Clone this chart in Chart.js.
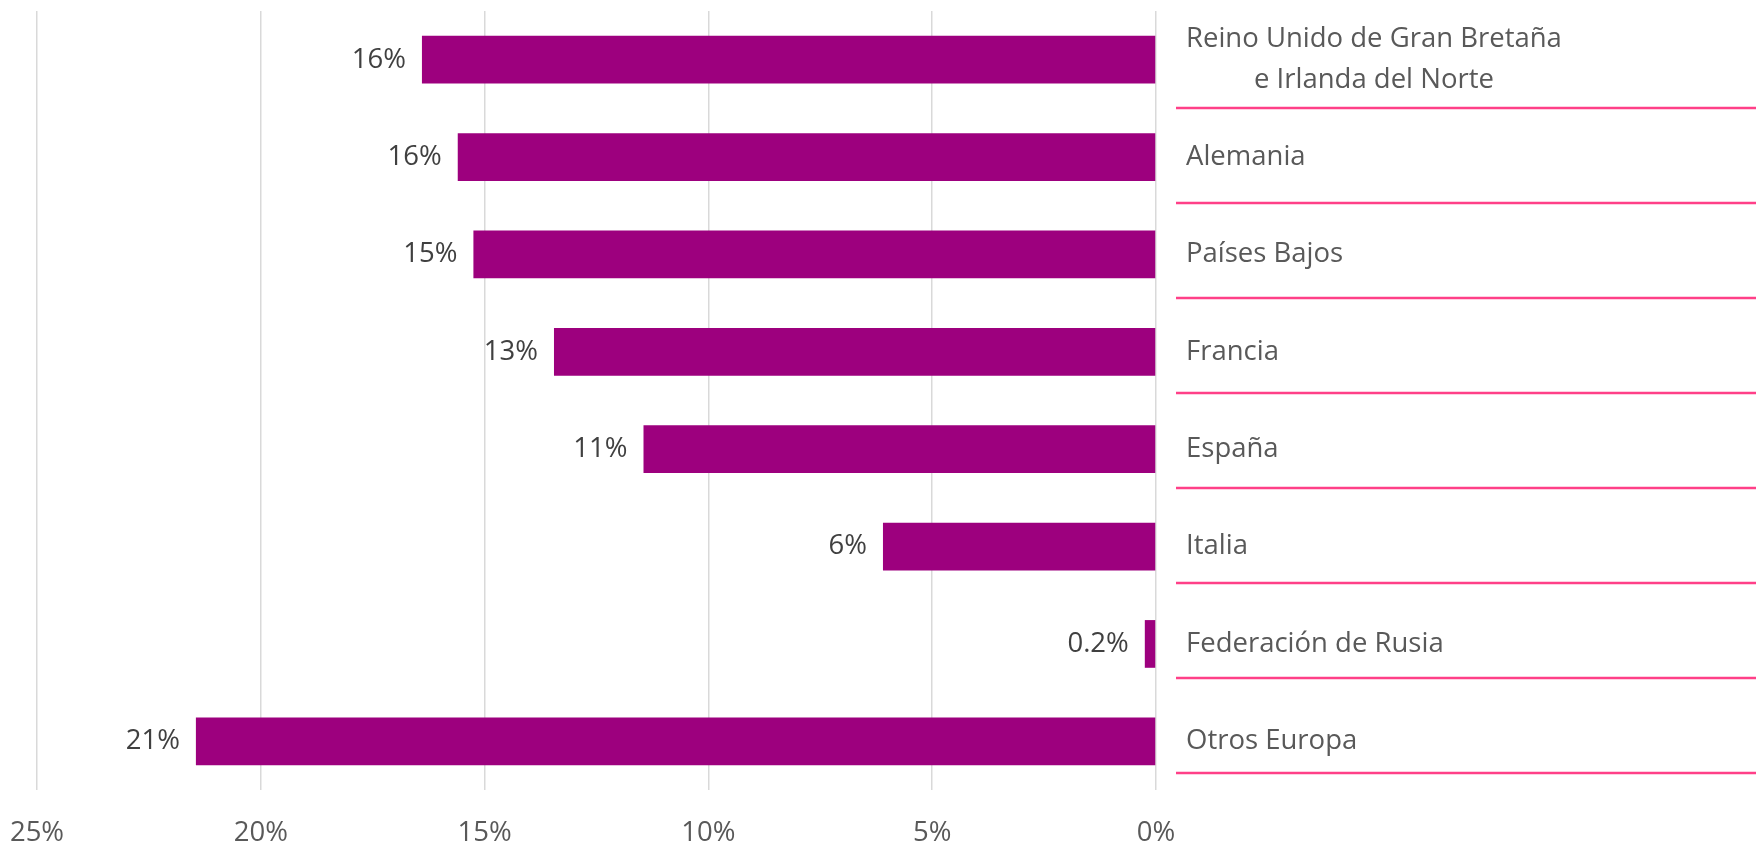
<!DOCTYPE html>
<html>
<head>
<meta charset="utf-8">
<script src="https://cdn.jsdelivr.net/npm/chart.js@4"></script>
<style>
  html, body { margin: 0; padding: 0; background: #fff; }
</style>
</head>
<body>
<canvas id="chart" width="1756" height="846"></canvas>
<script>
// categories, top to bottom
const categories = [
  ["Reino Unido de Gran Bretaña", "e Irlanda del Norte"],
  "Alemania",
  "Países Bajos",
  "Francia",
  "España",
  "Italia",
  "Federación de Rusia",
  "Otros Europa",
];
// share (%)
const shares = [16.4, 15.6, 15.25, 13.45, 11.45, 6.1, 0.25, 21.45];
// labels printed next to the bars
const valueLabels = ["16%", "16%", "15%", "13%", "11%", "6%", "0.2%", "21%"];
const xMax = 25;
const xStep = 5;

const FONT_FAMILY = "'Open Sans', sans-serif";
const FONT_SIZE = 27.5;

const sideTable = {
  id: "sideTable",
  afterDatasetsDraw(chart) {
    const { ctx, chartArea } = chart;
    const bars = chart.getDatasetMeta(0).data;
    ctx.save();
    ctx.font = FONT_SIZE + "px " + FONT_FAMILY;
    ctx.textBaseline = "middle";

    // value labels, left of each bar
    ctx.fillStyle = "#404040";
    ctx.textAlign = "right";
    bars.forEach((bar, i) => {
      ctx.fillText(valueLabels[i], bar.x - 16, bar.y);
    });

    // category names on the right
    const left = chartArea.right + 30;
    ctx.fillStyle = "#595959";
    ctx.textAlign = "center";
    bars.forEach((bar, i) => {
      const lines = [].concat(categories[i]);
      const w = Math.max(...lines.map((l) => ctx.measureText(l).width));
      const lh = 41;
      lines.forEach((l, j) => {
        ctx.fillText(l, left + w / 2, bar.y + (j - (lines.length - 1) / 2) * lh);
      });
    });

    // pink rules under every row
    const rowH = (chartArea.height - 19) / categories.length;
    ctx.strokeStyle = "#FF4088";
    ctx.lineWidth = 2.5;
    for (let i = 0; i < categories.length; i++) {
      const y = Math.round(chartArea.top + 1.7 + rowH * (i + 1));
      ctx.beginPath();
      ctx.moveTo(chartArea.right + 20, y);
      ctx.lineTo(chart.width, y);
      ctx.stroke();
    }
    ctx.restore();
  },
};

new Chart(document.getElementById("chart").getContext("2d"), {
  type: "bar",
  data: {
    labels: categories,
    datasets: [
      {
        data: shares,
        backgroundColor: "#9D007E",
        borderWidth: 0,
        categoryPercentage: 1,
        barPercentage: 0.49,
      },
    ],
  },
  options: {
    indexAxis: "y",
    responsive: false,
    animation: false,
    layout: { padding: { left: 37, top: 11, right: 0, bottom: 0 } },
    plugins: {
      legend: { display: false },
      tooltip: { enabled: false },
    },
    scales: {
      x: {
        reverse: true,
        min: 0,
        max: xMax,
        border: { display: false },
        grid: { color: "#D9D9D9", lineWidth: 1.5, drawTicks: false },
        ticks: {
          stepSize: xStep,
          padding: 27,
          color: "#595959",
          font: { family: FONT_FAMILY, size: FONT_SIZE },
          maxRotation: 0,
          callback: (v) => v + "%",
        },
        afterFit: (scale) => {
          scale.height = 56;
          scale.paddingLeft = 0;
          scale.paddingRight = 0;
        },
      },
      y: {
        position: "right",
        border: { display: false },
        grid: { display: false },
        ticks: { display: false },
        afterFit: (scale) => { scale.width = 600; },
      },
    },
  },
  plugins: [sideTable],
});
</script>
</body>
</html>
